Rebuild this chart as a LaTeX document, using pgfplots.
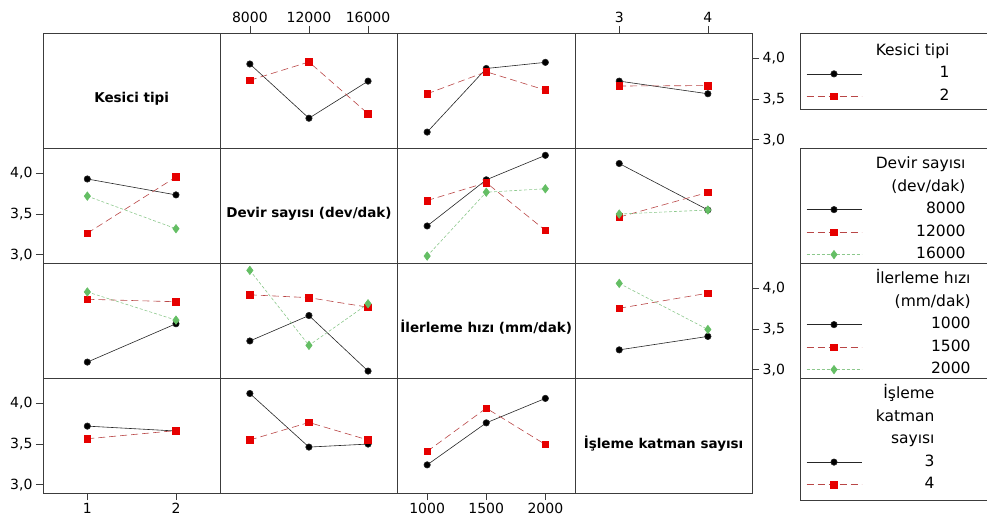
\documentclass[border=0pt]{standalone}
\usepackage{fontspec}
\setmainfont{DejaVu Sans}
\usepackage{pgfplots}
\pgfplotsset{compat=1.18}

\definecolor{lred}{RGB}{185,70,70}
\definecolor{mred}{RGB}{230,0,0}
\definecolor{lgrn}{RGB}{140,200,140}
\definecolor{mgrn}{RGB}{100,190,100}
\definecolor{frame}{RGB}{60,60,60}

\tikzset{lbl/.style={font=\fontsize{13.5}{16}\selectfont\bfseries, anchor=base}}

\pgfplotsset{
  pan/.style={scale only axis, width=177.3pt, height=115pt,
    anchor=north west, clip=false,
    ymin=2.90, ymax=4.31,
    xtick=\empty, ytick=\empty, scaled ticks=false,
    axis line style={frame, line width=0.8pt},
    tick style={frame, line width=0.7pt},
    tick align=outside, major tick length=7pt,
    tick label style={font=\fontsize{14}{16}\selectfont},
    legend cell align=right,
    legend style={draw=none, fill=none, inner sep=0pt, column sep=14pt,
      font=\fontsize{15.5}{17}\selectfont,
      nodes={inner sep=0pt, text height=15.3pt, text depth=7.2pt}},
    legend image code/.code={\draw[mark repeat=2, mark phase=2]
      plot coordinates {(0pt,0pt) (27.5pt,0pt) (55pt,0pt)};},
  },
  c1/.style={pan, xmin=0.5, xmax=2.5},
  c2/.style={pan, xmin=6000, xmax=18000},
  c3/.style={pan, xmin=750, xmax=2250},
  c4/.style={pan, xmin=2.5, xmax=4.5},
  yt/.style={ytick={3,3.5,4}, yticklabels={{3,0},{3,5},{4,0}}},
  s1/.style={black!85, line width=0.6pt, mark=*, mark size=3.2pt,
    mark options={solid, fill=black}},
  s2/.style={lred, line width=0.6pt, dash pattern=on 7pt off 4pt,
    mark=square*, mark size=3.3pt, mark options={solid, draw=mred, fill=mred}},
  s3/.style={lgrn, line width=0.6pt, dash pattern=on 3pt off 2pt,
    mark=diamond*, mark size=4.2pt, mark options={solid, draw=mgrn, fill=mgrn}},
}

\begin{document}
\begin{tikzpicture}
\path[use as bounding box] (0pt,0pt) rectangle (987pt,-521pt);

% ---- row 1: Kesici tipi
\begin{axis}[c1, at={(43pt,-33pt)}]
  \node[lbl] at (rel axis cs:0.5,0.5) [yshift=-12.5pt] {Kesici tipi};
\end{axis}
\begin{axis}[c2, at={(220.3pt,-33pt)},
  xtick={8000,12000,16000}, xticklabels={8000,12000,16000},
  xtick pos=right, xticklabel pos=right]
  \addplot[s1] coordinates {(8000,3.93)(12000,3.265)(16000,3.72)};
  \addplot[s2] coordinates {(8000,3.73)(12000,3.955)(16000,3.32)};
\end{axis}
\begin{axis}[c3, at={(397.6pt,-33pt)}]
  \addplot[s1] coordinates {(1000,3.095)(1500,3.875)(2000,3.95)};
  \addplot[s2] coordinates {(1000,3.565)(1500,3.835)(2000,3.61)};
\end{axis}
\begin{axis}[c4, yt, at={(574.9pt,-33pt)},
  xtick={3,4}, xticklabels={3,4}, xtick pos=right, xticklabel pos=right,
  ytick pos=right, yticklabel pos=right,
  legend style={at={(1.3034,0.94)}, anchor=north west}]
  \addlegendimage{empty legend}\addlegendentry{Kesici tipi}
  \addplot[s1] coordinates {(3,3.72)(4,3.565)};
  \addlegendentry{1}
  \addplot[s2] coordinates {(3,3.66)(4,3.665)};
  \addlegendentry{2}
\end{axis}

% ---- row 2: Devir sayisi
\begin{axis}[c1, yt, at={(43pt,-148pt)}, ytick pos=left]
  \addplot[s1] coordinates {(1,3.93)(2,3.735)};
  \addplot[s2] coordinates {(1,3.265)(2,3.955)};
  \addplot[s3] coordinates {(1,3.72)(2,3.32)};
\end{axis}
\begin{axis}[c2, at={(220.3pt,-148pt)}]
  \node[lbl] at (rel axis cs:0.5,0.5) [yshift=-12.5pt] {Devir sayısı (dev/dak)};
\end{axis}
\begin{axis}[c3, at={(397.6pt,-148pt)}]
  \addplot[s1] coordinates {(1000,3.354)(1500,3.92)(2000,4.22)};
  \addplot[s2] coordinates {(1000,3.666)(1500,3.885)(2000,3.30)};
  \addplot[s3] coordinates {(1000,2.985)(1500,3.768)(2000,3.81)};
\end{axis}
\begin{axis}[c4, at={(574.9pt,-148pt)},
  legend style={at={(1.3034,0.955)}, anchor=north west}]
  \addlegendimage{empty legend}\addlegendentry{Devir sayısı}
  \addlegendimage{empty legend}\addlegendentry{(dev/dak)}
  \addplot[s1] coordinates {(3,4.12)(4,3.55)};
  \addlegendentry{8000}
  \addplot[s2] coordinates {(3,3.463)(4,3.765)};
  \addlegendentry{12000}
  \addplot[s3] coordinates {(3,3.50)(4,3.55)};
  \addlegendentry{16000}
\end{axis}

% ---- row 3: Ilerleme hizi
\begin{axis}[c1, at={(43pt,-263pt)}]
  \addplot[s1] coordinates {(1,3.095)(2,3.565)};
  \addplot[s2] coordinates {(1,3.865)(2,3.835)};
  \addplot[s3] coordinates {(1,3.955)(2,3.61)};
\end{axis}
\begin{axis}[c2, at={(220.3pt,-263pt)}]
  \addplot[s1] coordinates {(8000,3.354)(12000,3.666)(16000,2.985)};
  \addplot[s2] coordinates {(8000,3.92)(12000,3.885)(16000,3.768)};
  \addplot[s3] coordinates {(8000,4.22)(12000,3.30)(16000,3.81)};
\end{axis}
\begin{axis}[c3, at={(397.6pt,-263pt)}]
  \node[lbl] at (rel axis cs:0.5,0.5) [yshift=-12.5pt] {İlerleme hızı (mm/dak)};
\end{axis}
\begin{axis}[c4, yt, at={(574.9pt,-263pt)}, ytick pos=right, yticklabel pos=right,
  legend style={at={(1.3034,0.955)}, anchor=north west}]
  \addlegendimage{empty legend}\addlegendentry{İlerleme hızı}
  \addlegendimage{empty legend}\addlegendentry{(mm/dak)}
  \addplot[s1] coordinates {(3,3.245)(4,3.41)};
  \addlegendentry{1000}
  \addplot[s2] coordinates {(3,3.755)(4,3.94)};
  \addlegendentry{1500}
  \addplot[s3] coordinates {(3,4.06)(4,3.495)};
  \addlegendentry{2000}
\end{axis}

% ---- row 4: Isleme katman sayisi
\begin{axis}[c1, yt, at={(43pt,-378pt)}, ytick pos=left,
  xtick={1,2}, xticklabels={1,2}, xtick pos=left]
  \addplot[s1] coordinates {(1,3.72)(2,3.66)};
  \addplot[s2] coordinates {(1,3.565)(2,3.665)};
\end{axis}
\begin{axis}[c2, at={(220.3pt,-378pt)}]
  \addplot[s1] coordinates {(8000,4.12)(12000,3.463)(16000,3.50)};
  \addplot[s2] coordinates {(8000,3.55)(12000,3.765)(16000,3.55)};
\end{axis}
\begin{axis}[c3, at={(397.6pt,-378pt)},
  xtick={1000,1500,2000}, xticklabels={1000,1500,2000}, xtick pos=left,
  legend style={at={(2.3035,0.955)}, anchor=north west}]
  \addlegendimage{empty legend}\addlegendentry{İşleme}
  \addlegendimage{empty legend}\addlegendentry{katman}
  \addlegendimage{empty legend}\addlegendentry{sayısı}
  \addplot[s1] coordinates {(1000,3.245)(1500,3.76)(2000,4.06)};
  \addlegendentry{3}
  \addplot[s2] coordinates {(1000,3.41)(1500,3.94)(2000,3.495)};
  \addlegendentry{4}
\end{axis}
\begin{axis}[c4, at={(574.9pt,-378pt)}]
  \node[lbl] at (rel axis cs:0.5,0.5) [yshift=-12.5pt] {İşleme katman sayısı};
\end{axis}

% legend frames
\draw[frame, line width=0.8pt] (800pt,-33.3pt) rectangle (995pt,-109.3pt);
\draw[frame, line width=0.8pt] (800pt,-148.3pt) rectangle (995pt,-263.3pt);
\draw[frame, line width=0.8pt] (800pt,-263.3pt) rectangle (995pt,-378.3pt);
\draw[frame, line width=0.8pt] (800pt,-378.3pt) rectangle (995pt,-500pt);
\end{tikzpicture}
\end{document}
